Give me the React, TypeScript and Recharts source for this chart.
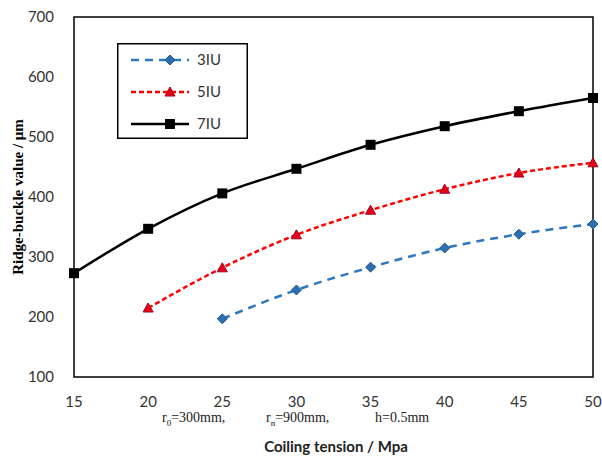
import { LineChart, Line, XAxis, YAxis, ReferenceArea } from 'recharts';

const tension = [15, 20, 25, 30, 35, 40, 45, 50];
const iu3 = [null, null, 197, 245, 283, 315, 338, 355];
const iu5 = [null, 215, 282, 337, 378, 413, 440, 457];
const iu7 = [273, 347, 406, 447, 487, 518, 543, 565];
const xTicks = [15, 20, 25, 30, 35, 40, 45, 50];
const yTicks = [100, 200, 300, 400, 500, 600, 700];

const data = tension.map((t, i) => ({ t, iu3: iu3[i], iu5: iu5[i], iu7: iu7[i] }));

const tickFont = { fontFamily: 'Lato, sans-serif', fontSize: 15, fill: '#333' };

const Diamond = ({ cx, cy, size = 5 }: any) =>
  cx == null || cy == null ? null : (
    <polygon
      points={`${cx},${cy - size} ${cx + size},${cy} ${cx},${cy + size} ${cx - size},${cy}`}
      fill="#2e6fae"
      stroke="#1f5a94"
    />
  );

const Triangle = ({ cx, cy, size = 5 }: any) =>
  cx == null || cy == null ? null : (
    <polygon
      points={`${cx},${cy - size} ${cx + size},${cy + size * 0.8} ${cx - size},${cy + size * 0.8}`}
      fill="#e8001c"
      stroke="#a00018"
    />
  );

const Square = ({ cx, cy, size = 5 }: any) =>
  cx == null || cy == null ? null : (
    <rect x={cx - size} y={cy - size} width={size * 2} height={size * 2} fill="#000" />
  );

const legendItems = [
  { name: '3IU', color: '#2e78c0', dash: '8 6', Mark: Diamond },
  { name: '5IU', color: '#ff0000', dash: '5 3', Mark: Triangle },
  { name: '7IU', color: '#000', dash: undefined, Mark: Square },
];

const LegendBox = () => (
  <svg width={131} height={96} style={{ position: 'absolute', left: 117, top: 43 }}>
    <rect x={0.75} y={0.75} width={129.5} height={94.5} fill="#fff" stroke="#000" strokeWidth={1.5} />
    {legendItems.map((it, i) => {
      const y = 17 + i * 32;
      return (
        <g key={it.name}>
          <line x1={14} x2={72} y1={y} y2={y} stroke={it.color} strokeWidth={2.5} strokeDasharray={it.dash} />
          <it.Mark cx={53} cy={y} />
          <text x={80} y={y + 5} style={tickFont}>
            {it.name}
          </text>
        </g>
      );
    })}
  </svg>
);

export default function App() {
  return (
    <div style={{ position: 'absolute', left: 0, top: 0, width: 602, height: 462, background: '#fff' }}>
      <LineChart width={602} height={462} data={data} margin={{ top: 17, right: 9, bottom: 0, left: 10 }}>
        <XAxis
          dataKey="t"
          type="number"
          domain={[15, 50]}
          ticks={xTicks}
          tick={tickFont}
          tickLine={false}
          tickMargin={13}
          height={85}
          axisLine={false}
        />
        <YAxis
          domain={[100, 700]}
          ticks={yTicks}
          tick={tickFont}
          tickLine={false}
          tickMargin={14}
          width={64}
          axisLine={false}
        />
        <ReferenceArea x1={15} x2={50} y1={100} y2={700} fill="none" stroke="#000" strokeWidth={1.5} fillOpacity={0} />
        <Line dataKey="iu3" name="3IU" stroke="#2e78c0" strokeWidth={2.5} strokeDasharray="8 6" dot={<Diamond />} isAnimationActive={false} type="monotone" />
        <Line dataKey="iu5" name="5IU" stroke="#ff0000" strokeWidth={2.5} strokeDasharray="5 3" dot={<Triangle />} isAnimationActive={false} type="monotone" />
        <Line dataKey="iu7" name="7IU" stroke="#000" strokeWidth={2.5} dot={<Square />} isAnimationActive={false} type="monotone" />
      </LineChart>
      <LegendBox />
      <div
        style={{
          position: 'absolute',
          left: 18,
          top: 197,
          transform: 'translate(-50%, -50%) rotate(-90deg)',
          whiteSpace: 'nowrap',
          fontFamily: '"Liberation Serif", serif',
          fontWeight: 'bold',
          fontSize: 15,
        }}
      >
        Ridge-buckle value / μm
      </div>
      <div style={{ position: 'absolute', top: 411, left: 0, width: 602, fontFamily: '"Liberation Serif", serif', fontSize: 14, lineHeight: '14px', color: '#222' }}>
        <span style={{ position: 'absolute', left: 162 }}>
          r<sub style={{ fontSize: 9 }}>0</sub>=300mm,
        </span>
        <span style={{ position: 'absolute', left: 266 }}>
          r<sub style={{ fontSize: 9 }}>n</sub>=900mm,
        </span>
        <span style={{ position: 'absolute', left: 375 }}>h=0.5mm</span>
      </div>
      <div
        style={{
          position: 'absolute',
          top: 437,
          left: 0,
          width: 602,
          paddingLeft: 70,
          boxSizing: 'border-box',
          textAlign: 'center',
          fontFamily: 'Lato, sans-serif',
          fontWeight: 'bold',
          fontSize: 15,
          color: '#222',
        }}
      >
        Coiling tension / Mpa
      </div>
    </div>
  );
}
